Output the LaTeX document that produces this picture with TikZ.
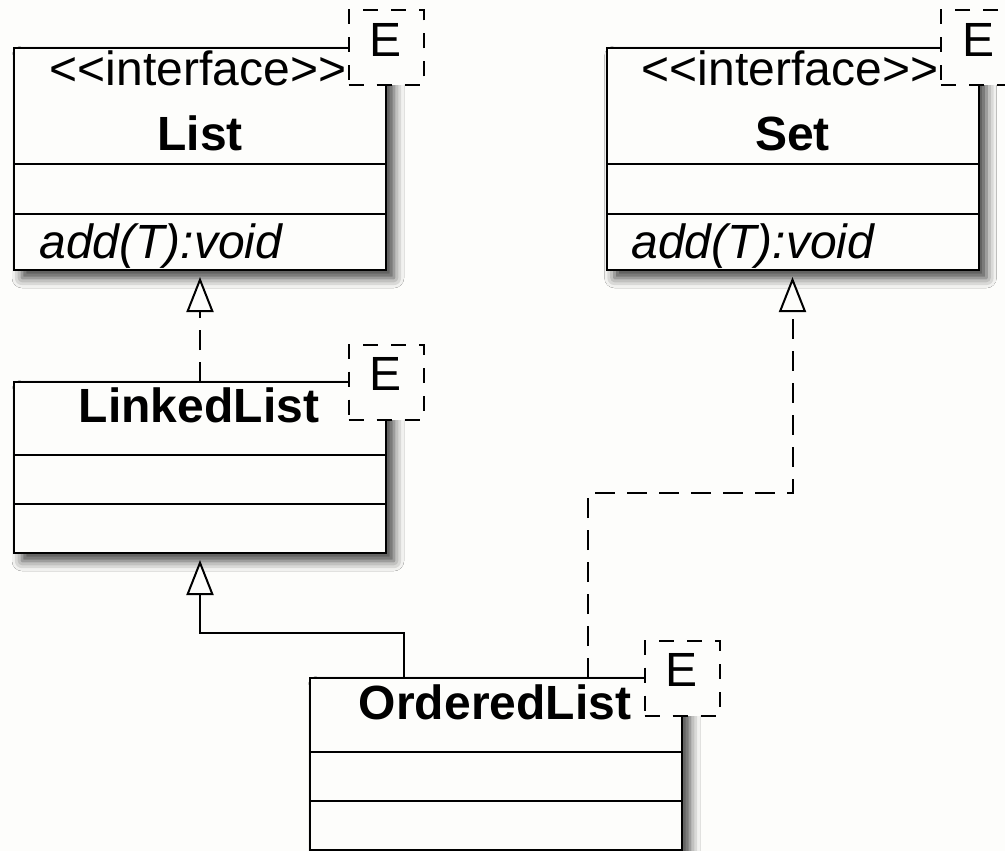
\documentclass[tikz,border=0pt]{standalone}
\usepackage{fontspec}
\setmainfont{Liberation Sans}
\usetikzlibrary{positioning, arrows.meta, shadows.blur}

\definecolor{paper}{RGB}{253,253,251}
\newcommand{\umlfont}{\fontsize{48pt}{58pt}\selectfont}
\newcommand{\guil}[1]{<\kern0pt<#1>\kern0pt>}

\tikzset{
	umlclass/.style={draw, line width=2pt, fill=paper, inner sep=0pt, outer sep=0pt, minimum width=372pt,
		blur shadow={shadow xshift=8pt, shadow yshift=-8pt, shadow blur radius=10pt, shadow opacity=75}},
	tparam/.style={draw, dash pattern=on 15pt off 13pt, line width=2pt, fill=paper, inner sep=0pt,
		minimum size=75pt, text height=35pt, text depth=18pt, font=\umlfont},
	sep/.style={line width=2pt},
	stereo/.style={anchor=base, font=\umlfont},
	cname/.style={anchor=base, font=\umlfont\bfseries},
	oper/.style={anchor=base west, font=\umlfont\itshape},
	realize/.style={line width=2pt, dash pattern=on 20pt off 12pt, shorten >=7pt,
		-{Triangle[open, length=35pt, width=27pt, fill=paper]}},
	inherit/.style={line width=2pt, shorten >=7pt,
		-{Triangle[open, length=35pt, width=27pt, fill=paper]}}
}

\begin{document}
\begin{tikzpicture}[x=1pt, y=-1pt]
	\fill[paper] (0, 0) rectangle (1005, 851);
	\useasboundingbox (0, 0) rectangle (1005, 851);

	% Classes:
	\node[umlclass, minimum height=222pt] (list) at (200, 159) {};
	\node[umlclass, minimum height=222pt] (set) at (792.5, 159) {};
	\node[umlclass, minimum height=171pt] (linked) at (200, 467.5) {};
	\node[umlclass, minimum height=172pt] (ordered) at (496, 764) {};

	% Compartments:
	\draw[sep] ([yshift=-116pt]list.north west) -- ([yshift=-116pt]list.north east);
	\draw[sep] ([yshift=-166pt]list.north west) -- ([yshift=-166pt]list.north east);
	\draw[sep] ([yshift=-116pt]set.north west) -- ([yshift=-116pt]set.north east);
	\draw[sep] ([yshift=-166pt]set.north west) -- ([yshift=-166pt]set.north east);
	\draw[sep] ([yshift=-73pt]linked.north west) -- ([yshift=-73pt]linked.north east);
	\draw[sep] ([yshift=-122pt]linked.north west) -- ([yshift=-122pt]linked.north east);
	\draw[sep] ([yshift=-74pt]ordered.north west) -- ([yshift=-74pt]ordered.north east);
	\draw[sep] ([yshift=-123pt]ordered.north west) -- ([yshift=-123pt]ordered.north east);

	% Labels:
	\node[stereo] (listStereo) at (198, 85) {\guil{interface}};
	\node[cname] (listName) at (200, 150) {List};
	\node[oper] (listAdd) at (36, 258) {add(T):void};

	\node[stereo] (setStereo) at (790, 85) {\guil{interface}};
	\node[cname] (setName) at (792.5, 150) {Set};
	\node[oper] (setAdd) at (628, 258) {add(T):void};

	\node[cname] (linkedName) at (199, 422) {LinkedList};
	\node[cname] (orderedName) at (495, 719) {OrderedList};

	% Template parameters:
	\node[tparam] (listE) at (list.north east) {E};
	\node[tparam] (setE) at (set.north east) {E};
	\node[tparam] (linkedE) at (linked.north east) {E};
	\node[tparam] (orderedE) at (ordered.north east) {E};

	% Lines:
	\draw[realize] (linked.north) -- (list.south);
	\draw[inherit] ([xshift=94pt]ordered.north west) -- ++(0, -45) -| (linked.south);
	\draw[realize] ([xshift=278pt]ordered.north west) -- ++(0, -185) -| (set.south);
\end{tikzpicture}
\end{document}
